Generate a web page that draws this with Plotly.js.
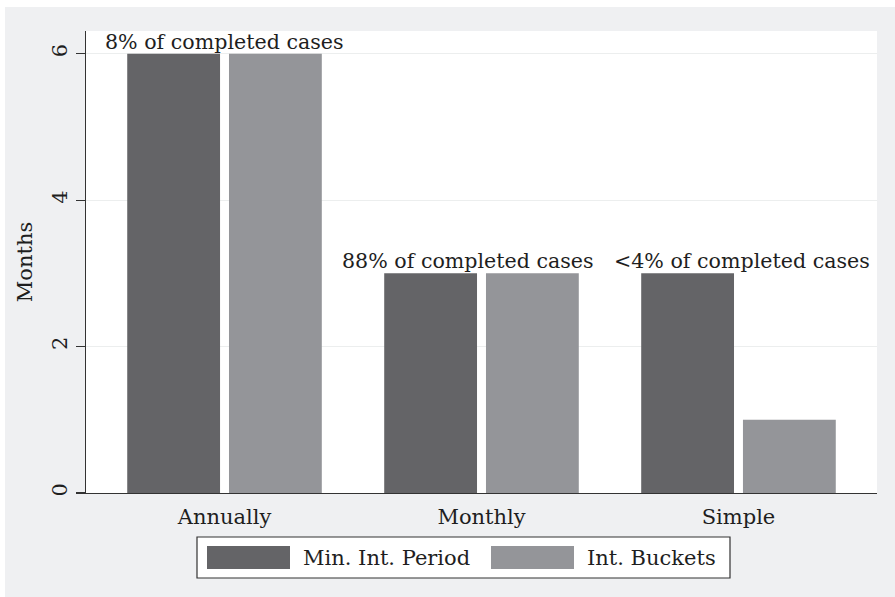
<!DOCTYPE html>
<html>
<head>
<meta charset="utf-8">
<script src="https://cdn.plot.ly/plotly-3.0.1.min.js"></script>
<style>
html,body{margin:0;padding:0;background:#ffffff;width:895px;height:597px;overflow:hidden;}
#chart{position:absolute;left:5px;top:7px;width:890px;height:590px;}
</style>
</head>
<body>
<div id="chart"></div>
<script>
// Data
var categories = ["Annually", "Monthly", "Simple"];
var seriesNames = ["Min. Int. Period", "Int. Buckets"];
var minIntPeriod = [6, 3, 3];
var intBuckets = [6, 3, 1];
var caseLabels = ["8% of completed cases", "88% of completed cases", "<4% of completed cases"];
var labelHeights = [6, 3, 3];
var yTicks = [0, 2, 4, 6];

var FONT = "DejaVu Serif, Liberation Serif, serif";
var FS = 21;
var W = 890, H = 590;
var M = {l: 81, r: 18, t: 24, b: 104};
var PW = W - M.l - M.r, PH = H - M.t - M.b;
function px(x) { return (x - 5 - M.l) / PW; }      // page x -> paper x
function py(y) { return (H - M.b - (y - 7)) / PH; } // page y -> paper y

var colors = ["#646467", "#949599"];

var traces = [
  {type: "bar", name: seriesNames[0], x: categories, y: minIntPeriod,
   marker: {color: colors[0], line: {width: 0}}, showlegend: false, hoverinfo: "x+y+name"},
  {type: "bar", name: seriesNames[1], x: categories, y: intBuckets,
   marker: {color: colors[1], line: {width: 0}}, showlegend: false, hoverinfo: "x+y+name"}
];

var xshifts = [0, -13.5, 4];
var annotations = caseLabels.map(function (t, i) {
  return {x: categories[i], y: labelHeights[i], xref: "x", yref: "y", text: t,
    showarrow: false, xanchor: "center", yanchor: "middle", yshift: 12, xshift: xshifts[i],
    font: {family: FONT, size: 20.6, color: "#1e1e1e"}};
});

// custom legend (large swatches like the original)
var shapes = [
  {type: "rect", xref: "paper", yref: "paper", x0: px(197), x1: px(730), y0: py(578), y1: py(537),
   fillcolor: "#ffffff", line: {color: "#333333", width: 1.2}, layer: "above"},
  {type: "rect", xref: "paper", yref: "paper", x0: px(207), x1: px(290), y0: py(569), y1: py(546),
   fillcolor: colors[0], line: {width: 0}, layer: "above"},
  {type: "rect", xref: "paper", yref: "paper", x0: px(491), x1: px(574), y0: py(569), y1: py(546),
   fillcolor: colors[1], line: {width: 0}, layer: "above"}
];
annotations.push({xref: "paper", yref: "paper", x: px(301), y: py(558), text: seriesNames[0],
  showarrow: false, xanchor: "left", yanchor: "middle", font: {family: FONT, size: FS, color: "#1e1e1e"}});
annotations.push({xref: "paper", yref: "paper", x: px(585), y: py(558), text: seriesNames[1],
  showarrow: false, xanchor: "left", yanchor: "middle", font: {family: FONT, size: FS, color: "#1e1e1e"}});

var layout = {
  width: W, height: H,
  margin: M,
  paper_bgcolor: "#eff0f2",
  plot_bgcolor: "#ffffff",
  barmode: "group",
  bargap: 0.208,
  bargroupgap: 0.088,
  showlegend: false,
  font: {family: FONT, size: FS, color: "#1e1e1e"},
  xaxis: {
    type: "category", range: [-0.539, 2.539], showline: true, linecolor: "#333333", linewidth: 1.2,
    ticks: "", showgrid: false, zeroline: false, ticklabelstandoff: 5,
    tickfont: {family: FONT, size: FS, color: "#1e1e1e"},
    fixedrange: true
  },
  yaxis: {
    range: [0, 6.31], tickvals: yTicks, ticktext: yTicks.map(String), tickangle: -90,
    ticks: "outside", ticklen: 9, tickcolor: "#333333", tickwidth: 1.2,
    showline: true, linecolor: "#333333", linewidth: 1.2,
    showgrid: true, gridcolor: "#eceeee", gridwidth: 1, zeroline: false,
    tickfont: {family: FONT, size: FS, color: "#1e1e1e"},
    title: {text: "Months", font: {family: FONT, size: FS, color: "#1e1e1e"}, standoff: 10},
    fixedrange: true
  },
  annotations: annotations,
  shapes: shapes
};

Plotly.newPlot("chart", traces, layout, {displayModeBar: false, staticPlot: true});
</script>
</body>
</html>
